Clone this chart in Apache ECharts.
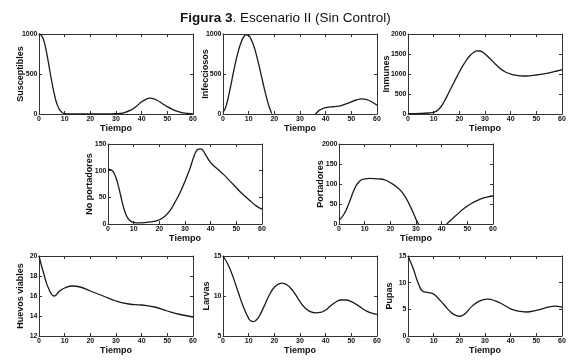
<!DOCTYPE html>
<html>
<head>
    <meta charset="UTF-8"/>
    <title>Figura 3</title>
    <script src="https://cdn.jsdelivr.net/npm/echarts@6/dist/echarts.min.js"></script>
    <style>
        html, body { margin: 0; padding: 0; background: #fff; }
        #charts { width: 580px; height: 364px; }
    </style>
</head>
<body>
<div id="charts"></div>
<script>
    // 数据
    var tiempoTicks = [0, 10, 20, 30, 40, 50, 60];
    var portadoresTicks = ['0', '50', '100', '150', '2000'];

    var susceptibles = [[0, 1000], [1, 980], [2, 905], [3, 760], [4, 580], [5, 400], [6, 245], [7, 125], [8, 55], [9, 20], [10, 6], [12, 1], [15, 0], [20, 0], [25, 0], [30, 3], [33, 15], [36, 52], [38, 98], [40, 152], [42, 190], [43, 198], [44, 196], [46, 172], [48, 132], [50, 92], [52, 58], [54, 32], [56, 15], [58, 6], [60, 2]];
    var infecciososA = [[0, 20], [1, 80], [2, 200], [3, 350], [4, 510], [5, 660], [6, 790], [7, 890], [8, 960], [9, 990], [10, 980], [11, 930], [12, 850], [13, 740], [14, 610], [15, 470], [16, 330], [17, 200], [18, 90], [19, 5]];
    var infecciososB = [[36, 0], [37, 30], [38, 55], [40, 80], [42, 88], [44, 94], [46, 106], [48, 126], [50, 152], [52, 175], [54, 188], [56, 180], [58, 150], [60, 110]];
    var inmunes = [[0, 10], [5, 15], [8, 25], [10, 40], [12, 120], [14, 300], [16, 550], [18, 800], [20, 1050], [22, 1270], [24, 1450], [26, 1560], [27, 1580], [28, 1575], [30, 1500], [32, 1380], [34, 1250], [36, 1130], [38, 1050], [40, 1000], [42, 970], [45, 950], [48, 960], [50, 975], [52, 995], [55, 1030], [58, 1075], [60, 1110]];
    var noPortadores = [[0, 103], [1, 102], [2, 98], [3, 88], [4, 72], [5, 52], [6, 32], [7, 18], [8, 9], [9, 5], [10, 3], [12, 2], [15, 3], [18, 5], [20, 8], [22, 14], [24, 24], [26, 40], [28, 58], [30, 80], [32, 105], [33, 120], [34, 133], [35, 140], [36, 141], [37, 138], [38, 130], [40, 115], [42, 106], [45, 93], [48, 78], [50, 68], [52, 58], [55, 45], [58, 33], [60, 28]];
    var portadoresA = [[0, 10], [2, 25], [4, 54], [6, 87], [8, 107], [10, 113], [12, 114], [15, 113], [18, 110], [20, 103], [22, 95], [25, 76], [28, 41], [30, 12], [31, 0]];
    var portadoresB = [[42, 0], [45, 18], [50, 45], [55, 62], [58, 68], [60, 70]];
    var huevos = [[0, 20], [2, 18.1], [4, 16.6], [6, 16.0], [8, 16.5], [10, 16.8], [13, 17.0], [16, 16.9], [20, 16.5], [25, 16.0], [30, 15.5], [35, 15.2], [40, 15.1], [45, 14.9], [50, 14.5], [55, 14.15], [60, 13.9]];
    var larvas = [[0, 15], [2, 13.9], [4, 12.3], [6, 10.4], [8, 8.6], [10, 7.2], [11, 6.85], [12, 6.8], [13, 7.0], [14, 7.4], [16, 8.7], [18, 10.1], [20, 11.1], [22, 11.55], [23, 11.6], [24, 11.55], [26, 11.1], [28, 10.3], [30, 9.3], [32, 8.5], [34, 8.05], [36, 7.9], [38, 7.95], [40, 8.25], [42, 8.8], [44, 9.25], [46, 9.5], [48, 9.5], [50, 9.3], [52, 8.95], [54, 8.5], [56, 8.1], [58, 7.85], [60, 7.7]];
    var pupas = [[0, 15], [2, 12.7], [4, 9.9], [6, 8.3], [8, 8.15], [10, 7.85], [12, 6.95], [14, 5.9], [16, 4.8], [18, 4.0], [20, 3.7], [22, 4.1], [25, 5.6], [28, 6.6], [31, 6.9], [34, 6.6], [37, 5.9], [40, 5.1], [43, 4.65], [46, 4.5], [50, 4.8], [55, 5.45], [57, 5.6], [60, 5.4]];

    var paneles = [
        {name: 'Susceptibles', left: 39, top: 34, min: 0, max: 1000, interval: 500, gap: 13.5, data: [susceptibles]},
        {name: 'Infecciosos', left: 223, top: 34, min: 0, max: 1000, interval: 500, gap: 12.5, data: [infecciososA, infecciososB]},
        {name: 'Inmunes', left: 408, top: 34, min: 0, max: 2000, interval: 500, gap: 16.5, data: [inmunes]},
        {name: 'No portadores', left: 108, top: 144, min: 0, max: 150, interval: 50, gap: 13.5, data: [noPortadores]},
        {name: 'Portadores', left: 339, top: 144, min: 0, max: 200, interval: 50, gap: 13.5, data: [portadoresA, portadoresB], ticks: portadoresTicks},
        {name: 'Huevos viables', left: 39, top: 256, min: 12, max: 20, interval: 2, gap: 13.5, data: [huevos]},
        {name: 'Larvas', left: 223, top: 256, min: 5, max: 15, interval: 5, gap: 11.5, data: [larvas]},
        {name: 'Pupas', left: 408, top: 256, min: 0, max: 15, interval: 5, gap: 13.5, data: [pupas]}
    ];

    var fuente = 'Liberation Sans, Arial, sans-serif';
    var linea = {show: true, onZero: false, lineStyle: {color: '#333', width: 1}};
    var tick = {show: true, inside: true, length: 3, lineStyle: {color: '#333', width: 1}};
    var etiqueta = {color: '#111', fontFamily: fuente, fontWeight: 'bold', fontSize: 7, margin: 1.5};

    var grid = [], xAxis = [], yAxis = [], series = [];
    paneles.forEach(function (p, i) {
        grid.push({left: p.left, top: p.top, width: 154, height: 80});
        var xi = xAxis.length, yi = yAxis.length;
        xAxis.push({
            gridIndex: i, type: 'value', position: 'bottom', min: tiempoTicks[0], max: tiempoTicks[tiempoTicks.length - 1],
            interval: 10, name: 'Tiempo', nameLocation: 'middle', nameGap: 10, nameMoveOverlap: false,
            nameTextStyle: {color: '#111', fontFamily: fuente, fontWeight: 'bold', fontSize: 9},
            axisLine: linea, axisTick: tick, splitLine: {show: false},
            axisLabel: Object.assign({formatter: function (v) { return String(v); }}, etiqueta)
        });
        xAxis.push({
            gridIndex: i, type: 'value', position: 'top', min: 0, max: 60, interval: 10,
            axisLine: linea, axisTick: tick, splitLine: {show: false}, axisLabel: {show: false}
        });
        var lab = Object.assign({}, etiqueta);
        lab.formatter = p.ticks
            ? function (v) { return p.ticks[Math.round((v - p.min) / p.interval)]; }
            : function (v) { return String(v); };
        yAxis.push({
            gridIndex: i, type: 'value', position: 'left', min: p.min, max: p.max, interval: p.interval,
            name: p.name, nameLocation: 'middle', nameGap: p.gap, nameMoveOverlap: false,
            nameTextStyle: {color: '#111', fontFamily: fuente, fontWeight: 'bold', fontSize: 9},
            axisLine: linea, axisTick: tick, splitLine: {show: false}, axisLabel: lab
        });
        yAxis.push({
            gridIndex: i, type: 'value', position: 'right', min: p.min, max: p.max, interval: p.interval,
            axisLine: linea, axisTick: tick, splitLine: {show: false}, axisLabel: {show: false}
        });
        p.data.forEach(function (d) {
            series.push({
                type: 'line', xAxisIndex: xi, yAxisIndex: yi, data: d, smooth: 0.5,
                showSymbol: false, lineStyle: {color: '#1a1a1a', width: 1.3}, clip: true
            });
        });
    });

    var myChart = echarts.init(document.getElementById('charts'), null, {renderer: 'canvas'});
    myChart.setOption({
        animation: false,
        title: {
            text: '{b|Figura 3}. Escenario II (Sin Control)',
            left: 175, top: 6,
            textStyle: {
                color: '#111', fontFamily: fuente, fontWeight: 'normal', fontSize: 13.5,
                rich: {b: {fontWeight: 'bold', fontSize: 13.5, fontFamily: fuente, color: '#111'}}
            }
        },
        grid: grid,
        xAxis: xAxis,
        yAxis: yAxis,
        series: series
    });
</script>
</body>
</html>
